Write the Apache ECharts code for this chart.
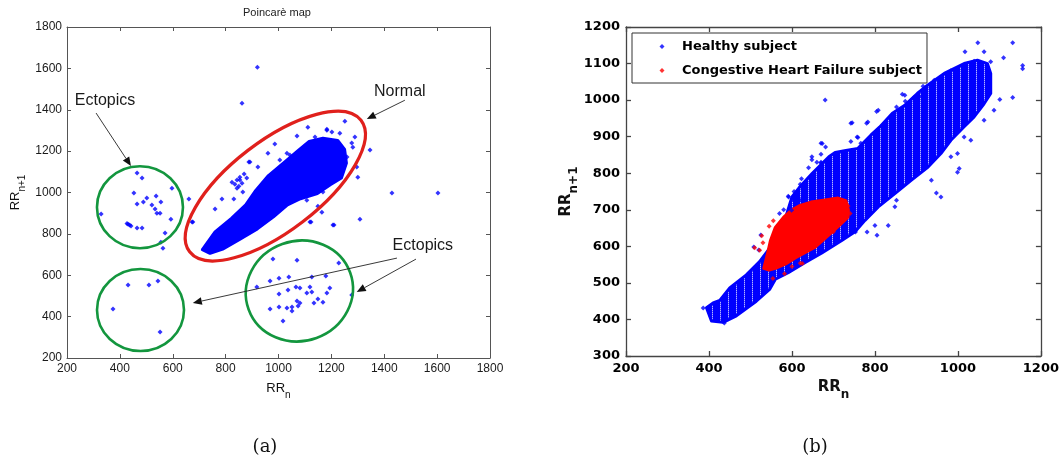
<!DOCTYPE html>
<html>
<head>
<meta charset="utf-8">
<script src="https://cdn.jsdelivr.net/npm/echarts@6/dist/echarts.min.js"></script>
<style>
  html, body { margin: 0; padding: 0; background: #fff; }
  #chart { width: 1062px; height: 469px; }
</style>
</head>
<body>
<div id="chart"></div>
<script>
// ---------------- axis ticks ----------------
const mapTicksX = [200, 400, 600, 800, 1000, 1200, 1400, 1600, 1800];
const mapTicksY = [200, 400, 600, 800, 1000, 1200, 1400, 1600, 1800];
const cmpTicksX = [200, 400, 600, 800, 1000, 1200];
const cmpTicksY = [300, 400, 500, 600, 700, 800, 900, 1000, 1100, 1200];

// ---------------- (a) Poincaré map of one recording ----------------
// outline of the dense sinus-rhythm cloud [RRn, RRn+1]
const sinusCloud = [
  [712, 724], [760, 810], [822, 875], [876, 940], [914, 1010], [962, 1082],
  [1026, 1150], [1076, 1205], [1116, 1247], [1168, 1262], [1224, 1252],
  [1250, 1208], [1257, 1142], [1238, 1070], [1196, 1038], [1147, 995],
  [1083, 970], [1034, 940], [981, 882], [920, 824], [856, 776], [792, 728], [741, 706]
];
// isolated beats around the cloud and the ectopic clusters
const scatteredBeats = [
  [920, 1605], [862, 1432],
  [465, 1094], [484, 1070], [453, 997], [465, 944], [502, 973], [489, 954], [537, 983],
  [555, 954], [521, 939], [533, 920], [540, 900], [552, 900], [597, 1021], [593, 871],
  [329, 896], [431, 847], [442, 838], [465, 828], [484, 828], [427, 850], [437, 843],
  [661, 968], [673, 857], [571, 804], [555, 760], [563, 731],
  [374, 437], [431, 553], [510, 553], [544, 572], [552, 326],
  [1251, 1345], [1289, 1268], [1346, 1205], [1300, 1074], [1429, 997], [1603, 997],
  [1308, 871], [1210, 843], [1123, 857], [1164, 905], [760, 920], [786, 968], [824, 1050],
  [854, 1074], [892, 1147], [960, 1190], [986, 1234], [1070, 1273], [1111, 1316],
  [1138, 1268], [1183, 1306], [1202, 1292], [1232, 1287], [1277, 1239], [1259, 1171],
  [831, 968], [862, 1045], [843, 1060], [1005, 1157], [1043, 1181], [1107, 1205],
  [1183, 1301], [1032, 1190], [888, 1147], [922, 1123], [854, 1060], [843, 1021],
  [865, 1002], [676, 857], [1296, 1123], [1281, 1219], [1168, 1002], [1107, 963],
  [1149, 934], [1119, 857], [1206, 843], [835, 1040], [850, 1030], [870, 1090], [880, 1070],
  [979, 678], [1070, 673], [1228, 659], [918, 543], [968, 572], [1002, 586], [1039, 591],
  [1126, 591], [1179, 596], [1036, 529], [1066, 543], [1081, 538], [1119, 543], [1126, 519],
  [1107, 514], [1002, 509], [1183, 514], [1194, 538], [1277, 504], [1070, 475], [1081, 466],
  [1149, 485], [1134, 466], [1168, 470], [1002, 446], [1032, 442], [1051, 446], [968, 437],
  [1051, 427], [1017, 379], [1074, 451]
];
// labels and arrows pointing at the clusters (tail -> head, in data units)
const noteLabels = [
  { text: 'Ectopics', at: [344, 1446] },
  { text: 'Normal', at: [1459, 1490] },
  { text: 'Ectopics', at: [1546, 741] }
];
const noteArrows = [
  [[310, 1384], [442, 1128]],
  [[1478, 1446], [1334, 1355]],
  [[1448, 683], [676, 466]],
  [[1520, 678], [1296, 519]]
];
// cluster rings: centre in data units, radii in pixels
const rings = [
  { at: [988, 1031], rx: 108, ry: 45, rot: 37.5, color: '#e0201c', width: 3.2 },
  { at: [476, 929], rx: 43, ry: 41, rot: 0, color: '#13963e', width: 2.6 },
  { at: [478, 432], rx: 43.5, ry: 41, rot: 0, color: '#13963e', width: 2.6 },
  { at: [1079, 524], rx: 54, ry: 50, rot: 20, color: '#13963e', width: 2.6 }
];

// ---------------- (b) healthy vs. CHF ----------------
const healthyCloud = [
  [406, 396], [394, 432], [410, 445], [426, 452], [450, 486], [490, 522], [522, 558],
  [546, 594], [566, 630], [585, 680], [600, 735], [617, 760], [649, 800], [689, 845],
  [704, 857], [730, 862], [759, 868], [790, 904], [811, 926], [842, 964], [871, 985],
  [902, 1018], [926, 1040], [967, 1073],
  [1015, 1100], [1047, 1109], [1071, 1100], [1079, 1073], [1079, 1018], [1063, 990],
  [1039, 954], [1015, 927], [983, 890], [959, 854], [928, 817], [888, 781], [848, 744],
  [808, 708], [776, 671], [752, 640], [720, 616], [672, 582], [632, 556], [591, 528],
  [560, 510], [546, 482], [514, 450], [466, 410], [434, 392]
];
const healthyBeats = [
  [386, 431], [437, 390], [516, 459],
  [1048, 1157], [1132, 1157], [1017, 1132], [1063, 1132], [1110, 1116], [1156, 1095],
  [1156, 1086], [1132, 1007], [1101, 1002], [1079, 1105], [1039, 1106], [983, 1080],
  [943, 1054], [920, 1027], [872, 1013], [852, 981], [808, 972], [783, 940], [745, 938],
  [757, 899], [673, 881], [681, 872], [680, 1000], [648, 845], [648, 837], [670, 828],
  [689, 835], [623, 785], [647, 790], [592, 735], [604, 726], [1003, 813], [999, 803],
  [959, 735], [948, 746], [936, 781], [983, 845], [999, 854], [1031, 890], [1015, 899],
  [1063, 945], [1087, 972], [852, 726], [848, 708], [800, 657], [832, 657], [805, 630],
  [781, 639], [753, 639], [620, 770], [605, 750], [580, 700], [570, 690], [640, 815], [660, 830],
  [742, 937], [780, 937], [804, 969], [866, 1016], [873, 997], [878, 983], [759, 898],
  [742, 887], [766, 882], [670, 882], [670, 852], [670, 830], [670, 808], [895, 1008],
  [907, 1010], [916, 1038], [591, 737], [622, 726], [599, 699], [525, 631], [508, 598], [520, 590]
];
const chfCloud = [
  [532, 540], [540, 575], [548, 615], [560, 652], [580, 680], [599, 699], [620, 712],
  [646, 721], [680, 727], [711, 732], [730, 725], [736, 700], [735, 680], [715, 658],
  [694, 636], [675, 617], [656, 598], [630, 582], [608, 568], [585, 552], [560, 540], [545, 535]
];
const chfBeats = [
  [527, 629], [510, 596], [522, 589], [582, 525], [554, 512], [625, 553], [545, 655],
  [555, 670], [530, 610], [735, 710], [740, 690], [700, 640], [600, 545], [620, 554]
];

// ---------------- drawing helpers ----------------
const SANS = 'Liberation Sans, Arial, sans-serif';
const BOLD = 'DejaVu Sans, sans-serif';

// quantised RR values leave thin pale columns in the healthy cloud
const stripe = document.createElement('canvas');
stripe.width = 8; stripe.height = 2;
(function () {
  const g = stripe.getContext('2d');
  g.fillStyle = '#0000ff'; g.fillRect(0, 0, 8, 2);
  g.fillStyle = 'rgba(255,255,255,0.7)'; g.fillRect(0, 0, 1, 1);
  g.fillStyle = 'rgba(255,255,255,0.3)'; g.fillRect(0, 1, 1, 1);
})();

// a dense cloud of beats drawn as its filled outline; the thick edge stands in for marker fuzz
function cloudSeries(name, pts, axis, fill, edge) {
  return {
    type: 'custom', name, xAxisIndex: axis, yAxisIndex: axis, data: pts, silent: true,
    z: 1,
    renderItem(params, api) {
      if (params.dataIndex !== 0) return null;
      return {
        type: 'polygon', shape: { points: pts.map(p => api.coord(p)) },
        style: { fill, stroke: edge, lineWidth: 3, lineJoin: 'round' }
      };
    }
  };
}

function valueAxis(gi, ticks, position, labelled, look) {
  return {
    type: 'value', gridIndex: gi, position,
    min: ticks[0], max: ticks[ticks.length - 1], interval: ticks[1] - ticks[0],
    axisLine: { show: true, onZero: false, lineStyle: { color: look.line, width: look.lineWidth } },
    axisTick: { show: true, inside: true, length: look.tick, lineStyle: { color: look.line, width: look.lineWidth } },
    axisLabel: labelled ? Object.assign({ show: true, formatter: v => String(v) }, look.label) : { show: false },
    splitLine: { show: false }
  };
}

const lookA = {
  line: '#555', lineWidth: 1, tick: 4,
  label: { color: '#1a1a1a', fontFamily: SANS, fontSize: 12, margin: 5 }
};
const lookB = {
  line: '#444', lineWidth: 1.3, tick: 5,
  label: { color: '#000', fontFamily: BOLD, fontWeight: 'bold', fontSize: 13, margin: 6 }
};

function subscripted(main, sub, size, subSize, family, weight, lift) {
  return {
    text: '{m|' + main + '}{s|' + sub + '}',
    style: {
      color: '#111', fontFamily: family, fontWeight: weight,
      rich: {
        m: { fontSize: size, fontFamily: family, fontWeight: weight, verticalAlign: 'bottom', padding: [0, 0, lift, 0] },
        s: { fontSize: subSize, fontFamily: family, fontWeight: weight, verticalAlign: 'bottom' }
      }
    }
  };
}

const xa0 = valueAxis(0, mapTicksX, 'bottom', true, lookA);
const xa1 = valueAxis(0, mapTicksX, 'top', false, lookA);
const ya0 = valueAxis(0, mapTicksY, 'left', true, lookA);
const ya1 = valueAxis(0, mapTicksY, 'right', false, lookA);
const xb0 = valueAxis(1, cmpTicksX, 'bottom', true, lookB);
const xb1 = valueAxis(1, cmpTicksX, 'top', false, lookB);
const yb0 = valueAxis(1, cmpTicksY, 'left', true, lookB);
const yb1 = valueAxis(1, cmpTicksY, 'right', false, lookB);

const nA_x = subscripted('RR', 'n', 13, 10, SANS, 'normal', 5);
const nA_y = subscripted('RR', 'n+1', 13, 10, SANS, 'normal', 5);
const nB_x = subscripted('RR', 'n', 15, 12, BOLD, 'bold', 6);
const nB_y = subscripted('RR', 'n+1', 15, 12, BOLD, 'bold', 6);

Object.assign(xa0, { name: nA_x.text, nameLocation: 'middle', nameGap: 24, nameTextStyle: nA_x.style });
Object.assign(ya0, { name: nA_y.text, nameLocation: 'middle', nameGap: 40, nameRotate: 90, nameTextStyle: nA_y.style });
Object.assign(xb0, { name: nB_x.text, nameLocation: 'middle', nameGap: 24, nameTextStyle: nB_x.style });
Object.assign(yb0, { name: nB_y.text, nameLocation: 'middle', nameGap: 41, nameRotate: 90, nameTextStyle: nB_y.style });

// annotation layer on the Poincaré map
const annotationLayer = {
  type: 'custom', xAxisIndex: 0, yAxisIndex: 0, data: [[1000, 1000]], silent: true, z: 5,
  renderItem(params, api) {
    const children = [];
    rings.forEach(r => {
      const c = api.coord(r.at);
      children.push({
        type: 'ellipse', x: c[0], y: c[1], rotation: r.rot * Math.PI / 180,
        shape: { cx: 0, cy: 0, rx: r.rx, ry: r.ry },
        style: { fill: 'none', stroke: r.color, lineWidth: r.width }
      });
    });
    noteArrows.forEach(a => {
      const p = api.coord(a[0]), q = api.coord(a[1]);
      const dx = q[0] - p[0], dy = q[1] - p[1], L = Math.hypot(dx, dy);
      const ux = dx / L, uy = dy / L, head = 9, half = 3.8;
      const bx = q[0] - ux * head, by = q[1] - uy * head;
      children.push({ type: 'line', shape: { x1: p[0], y1: p[1], x2: bx, y2: by }, style: { stroke: '#222', lineWidth: 0.9 } });
      children.push({
        type: 'polygon',
        shape: { points: [[q[0], q[1]], [bx - uy * half, by + ux * half], [bx + uy * half, by - ux * half]] },
        style: { fill: '#111' }
      });
    });
    noteLabels.forEach(n => {
      const c = api.coord(n.at);
      children.push({
        type: 'text', x: c[0], y: c[1],
        style: { text: n.text, fill: '#1a1a1a', font: '16px ' + SANS, textAlign: 'center', textVerticalAlign: 'middle' }
      });
    });
    return { type: 'group', children };
  }
};

// legend marker: a small diamond centred in a wider, otherwise empty box
const legendMark = 'path://M0,5L0,5M15,2.5L17.5,5L15,7.5L12.5,5ZM30,5L30,5';

const chart = echarts.init(document.getElementById('chart'), null, { renderer: 'canvas' });
chart.setOption({
  animation: false,
  backgroundColor: '#fff',
  grid: [
    { left: 67, top: 27, width: 423, height: 331, show: false },
    { left: 626, top: 27, width: 419, height: 329, show: false }
  ],
  xAxis: [xa0, xa1, xb0, xb1],
  yAxis: [ya0, ya1, yb0, yb1],
  legend: {
    data: ['Healthy subject', 'Congestive Heart Failure subject'],
    orient: 'vertical', left: 632, top: 33,
    padding: [6, 5, 5, 15], itemGap: 9,
    itemWidth: 30, itemHeight: 6, icon: legendMark,
    borderColor: '#333', borderWidth: 1, borderRadius: 0, backgroundColor: '#fff',
    textStyle: { fontFamily: BOLD, fontWeight: 'bold', fontSize: 13, color: '#000', lineHeight: 15 },
    selectedMode: false
  },
  graphic: [
    { type: 'text', left: 243, top: 7, style: { text: 'Poincarè map', font: '11px ' + SANS, fill: '#222' } },
    { type: 'text', x: 265, y: 447, style: { text: '(a)', font: '18px DejaVu Serif, serif', fill: '#111', textAlign: 'center', textVerticalAlign: 'middle' } },
    { type: 'text', x: 815, y: 447, style: { text: '(b)', font: '18px DejaVu Serif, serif', fill: '#111', textAlign: 'center', textVerticalAlign: 'middle' } }
  ],
  series: [
    cloudSeries('sinus cloud', sinusCloud, 0, '#0000ff', '#0000ff'),
    {
      type: 'scatter', name: 'beats', xAxisIndex: 0, yAxisIndex: 0, data: scatteredBeats,
      symbol: 'diamond', symbolSize: 5, itemStyle: { color: '#0000ff' }, z: 2
    },
    annotationLayer,
    cloudSeries('healthy cloud', healthyCloud, 2, { image: stripe, repeat: 'repeat' }, '#0000ff'),
    {
      type: 'scatter', name: 'Healthy subject', xAxisIndex: 2, yAxisIndex: 2, data: healthyBeats,
      symbol: 'diamond', symbolSize: 5, itemStyle: { color: '#0000ff' }, z: 2
    },
    cloudSeries('chf cloud', chfCloud, 2, '#ff0000', '#ff0000'),
    {
      type: 'scatter', name: 'Congestive Heart Failure subject', xAxisIndex: 2, yAxisIndex: 2, data: chfBeats,
      symbol: 'diamond', symbolSize: 5, itemStyle: { color: '#ff0000' }, z: 3
    }
  ]
});
</script>
</body>
</html>
